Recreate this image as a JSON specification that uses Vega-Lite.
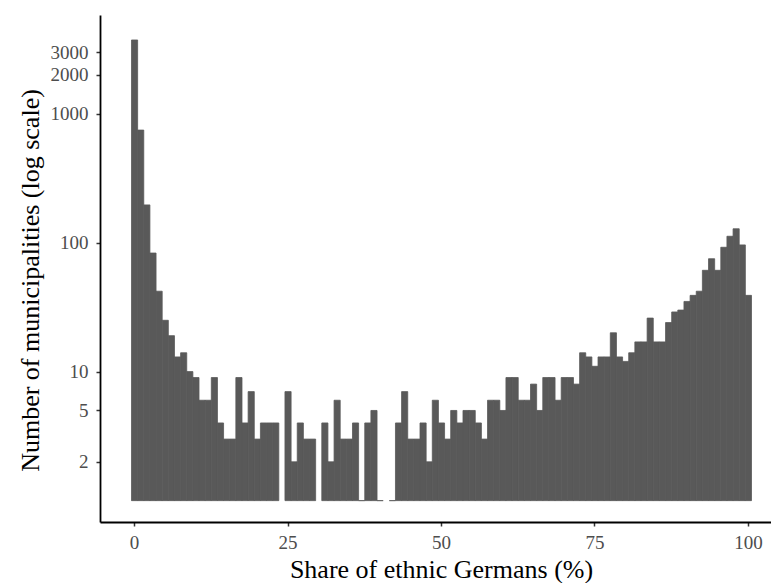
{
  "$schema": "https://vega.github.io/schema/vega-lite/v6.json",
  "width": 671,
  "height": 507,
  "autosize": "none",
  "padding": {"left": 100, "top": 15, "right": 0, "bottom": 61},
  "background": "white",
  "config": {"view": {"stroke": null}, "font": "Liberation Serif"},
  "data": {"values": [
    {"share": 0, "count": 3720}, {"share": 1, "count": 745}, {"share": 2, "count": 196}, {"share": 3, "count": 83},
    {"share": 4, "count": 42}, {"share": 5, "count": 25}, {"share": 6, "count": 19}, {"share": 7, "count": 13},
    {"share": 8, "count": 14}, {"share": 9, "count": 10}, {"share": 10, "count": 9}, {"share": 11, "count": 6},
    {"share": 12, "count": 6}, {"share": 13, "count": 9}, {"share": 14, "count": 4}, {"share": 15, "count": 3},
    {"share": 16, "count": 3}, {"share": 17, "count": 9}, {"share": 18, "count": 4}, {"share": 19, "count": 7},
    {"share": 20, "count": 3}, {"share": 21, "count": 4}, {"share": 22, "count": 4}, {"share": 23, "count": 4},
    {"share": 25, "count": 7}, {"share": 26, "count": 2}, {"share": 27, "count": 4}, {"share": 28, "count": 3},
    {"share": 29, "count": 3}, {"share": 31, "count": 4}, {"share": 32, "count": 2}, {"share": 33, "count": 6},
    {"share": 34, "count": 3}, {"share": 35, "count": 3}, {"share": 36, "count": 4}, {"share": 37, "count": 1},
    {"share": 38, "count": 4}, {"share": 39, "count": 5}, {"share": 40, "count": 1}, {"share": 42, "count": 1},
    {"share": 43, "count": 4}, {"share": 44, "count": 7}, {"share": 45, "count": 3}, {"share": 46, "count": 3},
    {"share": 47, "count": 4}, {"share": 48, "count": 2}, {"share": 49, "count": 6}, {"share": 50, "count": 4},
    {"share": 51, "count": 3}, {"share": 52, "count": 5}, {"share": 53, "count": 4}, {"share": 54, "count": 5},
    {"share": 55, "count": 5}, {"share": 56, "count": 4}, {"share": 57, "count": 3}, {"share": 58, "count": 6},
    {"share": 59, "count": 6}, {"share": 60, "count": 5}, {"share": 61, "count": 9}, {"share": 62, "count": 9},
    {"share": 63, "count": 6}, {"share": 64, "count": 6}, {"share": 65, "count": 8}, {"share": 66, "count": 5},
    {"share": 67, "count": 9}, {"share": 68, "count": 9}, {"share": 69, "count": 6}, {"share": 70, "count": 9},
    {"share": 71, "count": 9}, {"share": 72, "count": 8}, {"share": 73, "count": 14}, {"share": 74, "count": 13},
    {"share": 75, "count": 11}, {"share": 76, "count": 13}, {"share": 77, "count": 13}, {"share": 78, "count": 20},
    {"share": 79, "count": 13}, {"share": 80, "count": 12}, {"share": 81, "count": 14}, {"share": 82, "count": 17},
    {"share": 83, "count": 17}, {"share": 84, "count": 26}, {"share": 85, "count": 17}, {"share": 86, "count": 17},
    {"share": 87, "count": 24}, {"share": 88, "count": 29}, {"share": 89, "count": 30}, {"share": 90, "count": 35},
    {"share": 91, "count": 39}, {"share": 92, "count": 42}, {"share": 93, "count": 61}, {"share": 94, "count": 75},
    {"share": 95, "count": 61}, {"share": 96, "count": 92}, {"share": 97, "count": 112}, {"share": 98, "count": 128},
    {"share": 99, "count": 96}, {"share": 100, "count": 39}
  ]},
  "mark": {"type": "bar", "color": "#595959", "stroke": "#595959", "strokeWidth": 0.8, "binSpacing": 0},
  "encoding": {
    "x": {
      "field": "share", "type": "quantitative",
      "bin": {"step": 1, "extent": [-0.5, 100.5], "nice": false},
      "scale": {"domain": [-5.55, 103.76], "nice": false},
      "axis": {
        "values": [0, 25, 50, 75, 100],
        "format": "d",
        "labelFlush": false, "labelOverlap": false,
        "labelColor": "#4d4d4d", "labelFontSize": 19, "labelPadding": 7,
        "tickColor": "#333333", "tickSize": 4, "tickWidth": 1.5,
        "domainColor": "#000000", "domainWidth": 1.8,
        "grid": false,
        "title": "Share of ethnic Germans (%)",
        "titleFontSize": 26, "titleFontWeight": "normal", "titleColor": "#000000",
        "titleX": 341, "titleY": 47, "titleBaseline": "middle", "titleAlign": "center"
      }
    },
    "y": {
      "aggregate": "sum", "field": "count", "type": "quantitative",
      "scale": {"type": "log", "domain": [0.683, 5810], "nice": false},
      "axis": {
        "values": [2, 5, 10, 100, 1000, 2000, 3000],
        "format": "d",
        "labelColor": "#4d4d4d", "labelFontSize": 19, "labelPadding": 8,
        "tickColor": "#333333", "tickSize": 4, "tickWidth": 1.5,
        "domainColor": "#000000", "domainWidth": 1.8,
        "grid": false, "labelOverlap": false,
        "title": "Number of municipalities (log scale)",
        "titleFontSize": 26, "titleFontWeight": "normal", "titleColor": "#000000",
        "titleX": -70, "titleY": 265, "titleBaseline": "middle", "titleAlign": "center"
      }
    },
    "y2": {"datum": 1}
  }
}
